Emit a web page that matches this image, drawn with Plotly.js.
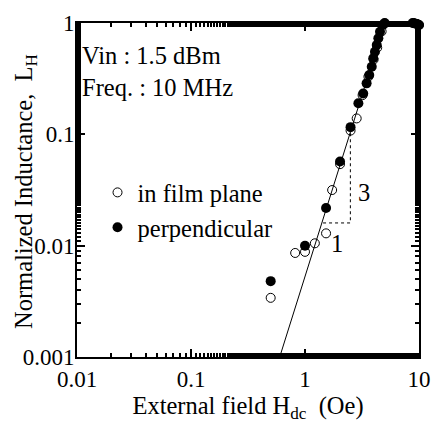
<!DOCTYPE html>
<html><head><meta charset="utf-8">
<script src="https://cdn.plot.ly/plotly-3.0.1.min.js"></script>
<style>html,body{margin:0;padding:0;background:#fff;}#chart{width:436px;height:428px;}</style>
</head><body><div id="chart"></div>
<script>
// in film plane (open circles)
const filmX = [0.5, 0.82, 1.0, 1.22, 1.53, 1.73, 2.03, 2.51, 2.84, 3.2, 3.6, 4.0, 4.3, 4.7, 5.0, 9.0, 9.6, 10.0];
const filmY = [0.0034, 0.0086, 0.0088, 0.0105, 0.0129, 0.0316, 0.054, 0.108, 0.139, 0.225, 0.33, 0.47, 0.6, 0.84, 0.99, 1.0, 0.98, 0.96];
// perpendicular (filled circles)
const perpX = [0.5, 1.0, 1.53, 2.03, 2.51, 2.94, 3.24, 3.47, 3.66, 3.85, 3.97, 4.11, 4.26, 4.40, 4.55, 4.81, 5.0, 8.8, 9.2, 9.6, 10.0];
const perpY = [0.0048, 0.010, 0.0218, 0.057, 0.116, 0.19, 0.233, 0.287, 0.341, 0.405, 0.482, 0.552, 0.634, 0.729, 0.835, 0.96, 1.0, 1.0, 0.99, 0.98, 0.96];
// fit line (slope ~3)
const fitX = [0.6, 5.0];
const fitY = [0.001, 1.0];
// slope triangle
const triX = [1.44, 2.5, 2.5];
const triY = [0.016, 0.016, 0.107];
const xTicks = [0.01, 0.1, 1, 10];
const xTickText = ['0.01', '0.1', '1', '10'];
const yTicks = [0.001, 0.01, 0.1, 1];
const yTickText = ['0.001', '0.01', '0.1', '1'];

const fam = 'Liberation Serif, Times New Roman, serif';
const tickFont = {family: fam, size: 23, color: '#000'};
const font = {family: fam, size: 24.5, color: '#000'};
const NB = '\u00A0';
const traces = [
  {x: fitX, y: fitY, mode: 'lines', line: {color: '#000', width: 1}, showlegend: false, hoverinfo: 'skip'},
  {x: triX, y: triY, mode: 'lines', line: {color: '#000', width: 1, dash: 'dot'}, showlegend: false, hoverinfo: 'skip'},
  {x: filmX, y: filmY, mode: 'markers', name: 'in film plane', cliponaxis: false,
   marker: {symbol: 'circle-open', size: 9, color: '#000', line: {width: 1, color: '#000'}}},
  {x: perpX, y: perpY, mode: 'markers', name: 'perpendicular', cliponaxis: false,
   marker: {symbol: 'circle', size: 10, color: '#000'}}
];
const axisCommon = {
  type: 'log', showgrid: false, zeroline: false, showline: true, linecolor: '#000', linewidth: 2,
  mirror: 'allticks', ticks: 'inside', ticklen: 8, tickwidth: 2, tickcolor: '#000',
  tickfont: tickFont,
  minor: {ticks: 'inside', ticklen: 4, tickwidth: 2, tickcolor: '#000', showgrid: false}
};
const layout = {
  width: 436, height: 428,
  margin: {l: 77, r: 17, t: 23, b: 71},
  paper_bgcolor: '#fff', plot_bgcolor: '#fff',
  font: font,
  xaxis: Object.assign({}, axisCommon, {
    range: [-2, 1], tickvals: xTicks, ticktext: xTickText,
    title: {text: 'External field H<sub>dc</sub>' + NB + NB + '(Oe)', font: font, standoff: 2}
  }),
  yaxis: Object.assign({}, axisCommon, {
    range: [-3, 0], tickvals: yTicks, ticktext: yTickText, ticklabelstandoff: -4
  }),
  showlegend: true,
  legend: {x: 0.06, y: 0.56, xanchor: 'left', yanchor: 'top', bgcolor: 'rgba(0,0,0,0)', font: font, tracegroupgap: 0},
  annotations: [
    {xref: 'paper', yref: 'paper', x: -0.152, y: 0.494, xanchor: 'center', yanchor: 'middle', textangle: -90,
     text: 'Normalized Inductance,' + NB + NB + 'L<sub>H</sub>', showarrow: false, font: font},
    {xref: 'paper', yref: 'paper', x: 0.01, y: 0.904, xanchor: 'left', yanchor: 'middle', text: 'Vin : 1.5 dBm', showarrow: false, font: font},
    {xref: 'paper', yref: 'paper', x: 0.01, y: 0.807, xanchor: 'left', yanchor: 'middle', text: 'Freq. : 10 MHz', showarrow: false, font: font},
    {x: Math.log10(3.3), y: Math.log10(0.03), text: '3', showarrow: false, font: font},
    {x: Math.log10(1.9), y: Math.log10(0.0105), text: '1', showarrow: false, font: font}
  ]
};
Plotly.newPlot('chart', traces, layout, {displayModeBar: false, staticPlot: true});
</script></body></html>
